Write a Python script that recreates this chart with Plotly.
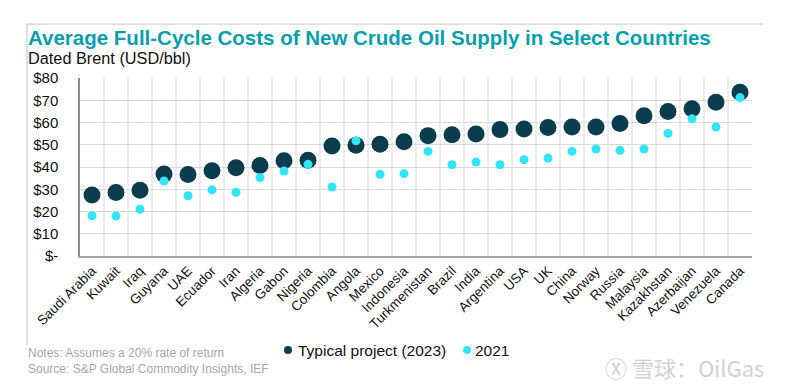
import plotly.graph_objects as go

countries = ["Saudi Arabia", "Kuwait", "Iraq", "Guyana", "UAE", "Ecuador", "Iran", "Algeria",
             "Gabon", "Nigeria", "Colombia", "Angola", "Mexico", "Indonesia", "Turkmenistan",
             "Brazil", "India", "Argentina", "USA", "UK", "China", "Norway", "Russia",
             "Malaysia", "Kazakhstan", "Azerbaijan", "Venezuela", "Canada"]
typical_2023 = [27.4, 28.5, 29.5, 36.8, 36.6, 38.3, 39.7, 40.7, 42.8, 43.0, 49.4, 49.8, 50.2,
                51.4, 54.1, 54.5, 54.8, 56.8, 57.1, 57.8, 58.0, 58.0, 59.5, 63.0, 64.9, 66.2,
                69.1, 73.6]
values_2021 = [18.1, 18.0, 21.0, 33.7, 27.1, 29.7, 28.6, 35.2, 38.2, 41.2, 31.0, 51.8, 36.7,
               37.0, 47.0, 41.0, 42.2, 41.0, 43.3, 44.0, 47.0, 48.1, 47.5, 48.1, 55.1, 61.7,
               58.0, 71.2]
y_ticks = [0, 10, 20, 30, 40, 50, 60, 70, 80]
y_tick_labels = ["$-", "$10", "$20", "$30", "$40", "$50", "$60", "$70", "$80"]

DARK = "#0b3c4d"
CYAN = "#33e4f5"
FONT = "Arial, Liberation Sans, sans-serif"

W, H = 800, 391
L, R, T, B = 80, 48, 78, 135
PW, PH = W - L - R, H - T - B


def px(x):
    return (x - L) / PW


def py(y):
    return (H - B - y) / PH


fig = go.Figure()
fig.add_trace(go.Scatter(x=countries, y=typical_2023, mode="markers", name="Typical project (2023)",
                         marker=dict(color=DARK, size=17, line=dict(width=0)), cliponaxis=False))
fig.add_trace(go.Scatter(x=countries, y=values_2021, mode="markers", name="2021",
                         marker=dict(color=CYAN, size=9, line=dict(width=0)), cliponaxis=False))

shapes = [
    dict(type="line", xref="paper", yref="paper", x0=px(27), x1=px(27), y0=py(24), y1=py(345),
         line=dict(color="#c0c0c0", width=1)),
    dict(type="line", xref="paper", yref="paper", x0=px(27), x1=px(763), y0=py(24), y1=py(24),
         line=dict(color="#c0c0c0", width=1)),
    # custom legend dots
    dict(type="circle", xref="paper", yref="paper", x0=px(284), x1=px(292), y0=py(346), y1=py(354),
         fillcolor=DARK, line=dict(width=0)),
    dict(type="circle", xref="paper", yref="paper", x0=px(463), x1=px(471), y0=py(346), y1=py(354),
         fillcolor=CYAN, line=dict(width=0)),
]

annotations = [
    dict(text="<b>Average Full-Cycle Costs of New Crude Oil Supply in Select Countries</b>",
         xref="paper", yref="paper", x=px(26), y=py(37), xanchor="left", yanchor="middle",
         showarrow=False, font=dict(family=FONT, size=20.5, color="#05a0ab")),
    dict(text="Dated Brent (USD/bbl)", xref="paper", yref="paper", x=px(26), y=py(58),
         xanchor="left", yanchor="middle", showarrow=False,
         font=dict(family=FONT, size=16.3, color="#111111")),
    dict(text="Typical project (2023)", xref="paper", yref="paper", x=px(296), y=py(350),
         xanchor="left", yanchor="middle", showarrow=False,
         font=dict(family=FONT, size=15.5, color="#111111")),
    dict(text="2021", xref="paper", yref="paper", x=px(473), y=py(350),
         xanchor="left", yanchor="middle", showarrow=False,
         font=dict(family=FONT, size=15.5, color="#111111")),
    dict(text="Notes: Assumes a 20% rate of return<br>Source: S&P Global Commodity Insights, IEF",
         xref="paper", yref="paper", x=px(26), y=py(361), xanchor="left", yanchor="middle",
         align="left", showarrow=False, font=dict(family=FONT, size=12, color="#a6a6a6")),
    dict(text="Ⓧ 雪球：OilGas", xref="paper", yref="paper", x=px(603), y=py(367),
         xanchor="left", yanchor="middle", showarrow=False,
         font=dict(family="Noto Sans CJK SC, Arial", size=22, color="#d2d2d2")),
]

fig.update_layout(
    width=W, height=H,
    margin=dict(l=L, r=R, t=T, b=B, autoexpand=False),
    paper_bgcolor="white", plot_bgcolor="white",
    showlegend=False,
    font=dict(family=FONT, size=13, color="#111111"),
    shapes=shapes, annotations=annotations,
)
fig.update_xaxes(
    type="category", categoryorder="array", categoryarray=countries,
    range=[-0.5, len(countries) - 0.5],
    tickangle=-45, tickfont=dict(family=FONT, size=13.5, color="#111111"),
    showgrid=False, showline=True, linecolor="#a6a6a6", linewidth=1.5,
    ticks="", fixedrange=True,
)
# vertical gridlines at category boundaries
for i in range(1, len(countries)):
    fig.add_vline(x=i - 0.5, line=dict(color="#d9d9d9", width=1), layer="below")
fig.update_yaxes(
    range=[0, 80], tickmode="array", tickvals=y_ticks, ticktext=y_tick_labels,
    tickfont=dict(family=FONT, size=15, color="#111111"),
    showgrid=True, gridcolor="#d9d9d9", gridwidth=1,
    showline=True, linecolor="#8c8c8c", linewidth=1.5,
    ticks="", ticklabelstandoff=17, zeroline=False, fixedrange=True,
)

fig.write_html("out.html", config={"displayModeBar": False},
               post_script="document.body.style.margin='0';")
